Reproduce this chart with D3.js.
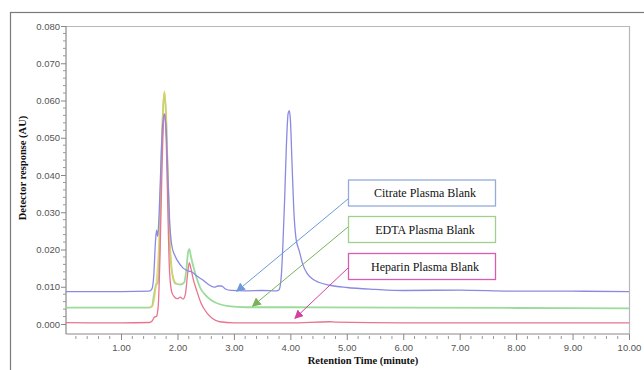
<!DOCTYPE html>
<html>
<head>
<meta charset="utf-8">
<script src="https://cdn.jsdelivr.net/npm/d3@7"></script>
<style>
  body { margin: 0; background: #fff; }
  svg { display: block; }
</style>
</head>
<body>
<script>
const svgW = 644;
const svgH = 370;

// retention time (min) / detector response (AU)
const citrateT = [0.02, 1.0, 1.50, 1.55, 1.58, 1.61, 1.63, 1.65, 1.67, 1.70, 1.73, 1.767, 1.80, 1.83, 1.86, 1.90, 1.95, 2.00, 2.10, 2.20, 2.25, 2.35, 2.45, 2.55, 2.65, 2.72, 2.78, 2.85, 2.95, 3.2, 3.5, 3.75, 3.80, 3.84, 3.87, 3.90, 3.93, 3.96, 3.98, 4.00, 4.03, 4.06, 4.10, 4.16, 4.22, 4.30, 4.40, 4.50, 4.70, 5.0, 5.5, 6.0, 7.0, 8.0, 9.0, 10.0];
const citrateV = [0.0087, 0.0087, 0.0088, 0.0095, 0.013, 0.022, 0.0252, 0.0235, 0.028, 0.040, 0.052, 0.0564, 0.052, 0.040, 0.028, 0.021, 0.0185, 0.017, 0.015, 0.0142, 0.014, 0.0128, 0.0118, 0.0106, 0.0099, 0.0102, 0.0102, 0.0094, 0.0090, 0.0089, 0.0090, 0.0089, 0.0092, 0.013, 0.022, 0.034, 0.048, 0.0565, 0.0573, 0.055, 0.043, 0.031, 0.023, 0.0195, 0.016, 0.0135, 0.012, 0.0112, 0.0104, 0.0098, 0.0093, 0.0090, 0.0091, 0.0088, 0.0088, 0.0087];

const edtaT = [0.02, 1.50, 1.55, 1.58, 1.62, 1.65, 1.68, 1.71, 1.74, 1.767, 1.80, 1.83, 1.87, 1.92, 1.97, 2.05, 2.12, 2.16, 2.19, 2.21, 2.24, 2.28, 2.33, 2.40, 2.50, 2.60, 2.75, 2.90, 3.2, 4.0, 6.0, 8.0, 10.0];
const edtaV = [0.0044, 0.0044, 0.0048, 0.0075, 0.0105, 0.011, 0.020, 0.040, 0.056, 0.0621, 0.055, 0.038, 0.020, 0.0125, 0.0108, 0.0106, 0.0112, 0.015, 0.0195, 0.0201, 0.018, 0.0155, 0.0128, 0.0098, 0.0077, 0.0064, 0.0053, 0.0048, 0.0045, 0.0045, 0.0044, 0.0043, 0.0042];

const heparinT = [0.02, 1.0, 1.50, 1.55, 1.59, 1.63, 1.66, 1.69, 1.72, 1.75, 1.775, 1.80, 1.83, 1.86, 1.90, 1.95, 2.00, 2.05, 2.10, 2.14, 2.18, 2.21, 2.24, 2.28, 2.34, 2.42, 2.52, 2.62, 2.75, 3.0, 4.0, 4.7, 4.8, 6.0, 10.0];
const heparinV = [0.00035, 0.0003, 0.0004, 0.0008, 0.0018, 0.0021, 0.005, 0.018, 0.038, 0.053, 0.0564, 0.050, 0.030, 0.014, 0.0085, 0.0072, 0.0068, 0.0072, 0.0067, 0.008, 0.0135, 0.0165, 0.0148, 0.012, 0.009, 0.0055, 0.003, 0.0015, 0.0006, 0.0003, 0.0003, 0.0006, 0.0005, 0.0003, 0.0003];

// faint extra trace visible only around the main peak
const extraT = [1.50, 1.55, 1.62, 1.68, 1.72, 1.75, 1.772, 1.80, 1.84, 1.88, 1.93, 2.0];
const extraV = [0.0045, 0.0047, 0.0105, 0.025, 0.048, 0.060, 0.0625, 0.056, 0.036, 0.018, 0.012, 0.0107];

const seriesNames = ['Citrate Plasma Blank', 'EDTA Plasma Blank', 'Heparin Plasma Blank'];
// where each label arrow points (time, response)
const arrowT = [3.05, 3.33, 4.08];
const arrowV = [0.0088, 0.0048, 0.0015];

const yTicks = [0, 0.01, 0.02, 0.03, 0.04, 0.05, 0.06, 0.07, 0.08];
const xTicks = [1, 2, 3, 4, 5, 6, 7, 8, 9, 10];

const lineColors = ['#8a8ae2', '#96d996', '#e8748e'];
const boxColors = ['#93abda', '#a3cf8e', '#d95cb0'];
const arrowColors = ['#6b9bd8', '#7bb05c', '#d63fa0'];

const plot = { left: 66, right: 629, top: 26, bottom: 334 };

const svg = d3.select('body')
              .append('svg')
              .attr('width', svgW)
              .attr('height', svgH);

// outer frame (runs off the picture on right and bottom)
svg.append('rect')
   .attr('x', 10.5).attr('y', 12.5)
   .attr('width', 700).attr('height', 400)
   .attr('fill', 'none')
   .attr('stroke', '#7a7a7a')
   .attr('stroke-width', 1.2);

const x = d3.scaleLinear().domain([0.025, 10]).range([plot.left, plot.right]);
const y = d3.scaleLinear().domain([0, 0.08]).range([324, plot.top]);
// y scale extends below 0 to the axis line
const yBottomVal = y.invert(plot.bottom);

// plot border top / right
svg.append('path')
   .attr('d', `M${plot.left},${plot.top + 0.5}H${plot.right + 0.5}V${plot.bottom}`)
   .attr('fill', 'none')
   .attr('stroke', '#b8b8b8')
   .attr('stroke-width', 1.2);

// y axis
const yMinor = d3.range(0, 0.0801, 0.002).filter(v => Math.round(v * 1000) % 10 !== 0);
const yAxisG = svg.append('g').attr('transform', `translate(${plot.left},0)`);
yAxisG.append('line')
      .attr('y1', plot.top).attr('y2', plot.bottom)
      .attr('stroke', '#8a8a8a').attr('stroke-width', 1.2);
yAxisG.selectAll('line.minor').data(yMinor).enter().append('line')
      .attr('class', 'minor')
      .attr('x1', -3).attr('x2', 0)
      .attr('y1', d => y(d)).attr('y2', d => y(d))
      .attr('stroke', '#999');
const yAxis = d3.axisLeft(y).tickValues(yTicks).tickFormat(d3.format('.3f')).tickSize(5).tickPadding(1);
const ya = yAxisG.append('g').call(yAxis);
ya.select('.domain').remove();
ya.selectAll('line').attr('stroke', '#888');
ya.selectAll('text')
  .attr('font-family', 'Liberation Sans, Arial, sans-serif')
  .attr('font-size', 9.5)
  .attr('fill', '#555');

// x axis
const xMinor = d3.range(0.2, 10.01, 0.2).filter(v => Math.abs(v - Math.round(v)) > 0.01);
const xAxisG = svg.append('g').attr('transform', `translate(0,${plot.bottom})`);
xAxisG.append('line')
      .attr('x1', plot.left).attr('x2', plot.right)
      .attr('stroke', '#8a8a8a').attr('stroke-width', 1.2);
xAxisG.selectAll('line.minor').data(xMinor).enter().append('line')
      .attr('class', 'minor')
      .attr('x1', d => x(d)).attr('x2', d => x(d))
      .attr('y1', 2).attr('y2', 5)
      .attr('stroke', '#999');
const xAxis = d3.axisBottom(x).tickValues(xTicks).tickFormat(d3.format('.2f')).tickSize(6).tickPadding(4);
const xa = xAxisG.append('g').call(xAxis);
xa.select('.domain').remove();
xa.selectAll('line').attr('stroke', '#888');
xa.selectAll('text')
  .attr('font-family', 'Liberation Sans, Arial, sans-serif')
  .attr('font-size', 9.5)
  .attr('fill', '#555');

// axis titles
svg.append('text')
   .attr('transform', 'translate(26,168) rotate(-90)')
   .attr('text-anchor', 'middle')
   .attr('font-family', 'Liberation Serif, Times New Roman, serif')
   .attr('font-weight', 'bold')
   .attr('font-size', 10.5)
   .attr('fill', '#111')
   .text('Detector response (AU)');
svg.append('text')
   .attr('x', 363).attr('y', 364)
   .attr('text-anchor', 'middle')
   .attr('font-family', 'Liberation Serif, Times New Roman, serif')
   .attr('font-weight', 'bold')
   .attr('font-size', 10.5)
   .attr('fill', '#111')
   .text('Retention Time (minute)');

// traces
const line = d3.line()
               .x(d => x(d[0]))
               .y(d => y(d[1]))
               .curve(d3.curveMonotoneX);
const zip = (a, b) => a.map((t, i) => [t, b[i]]);

const traces = [
  { data: zip(edtaT, edtaV), color: lineColors[1], w: 1.8, op: 0.95 },
  { data: zip(extraT, extraV), color: '#f2c94c', w: 1.4, op: 0.75 },
  { data: zip(heparinT, heparinV), color: lineColors[2], w: 1.3, op: 1 },
  { data: zip(citrateT, citrateV), color: lineColors[0], w: 1.3, op: 1 }
];
svg.append('g').selectAll('path')
   .data(traces)
   .enter()
   .append('path')
   .attr('d', d => line(d.data))
   .attr('fill', 'none')
   .attr('stroke', d => d.color)
   .attr('stroke-width', d => d.w)
   .attr('stroke-opacity', d => d.op)
   .attr('stroke-linejoin', 'round');

// label boxes with arrows
const boxX = 348.5, boxW = 147, boxH = 26;
const boxY = [180, 216.5, 253.5];
const arrowFrom = [[348, 199], [348, 227], [348, 268]];

const defs = svg.append('defs');
arrowColors.forEach((c, i) => {
  defs.append('marker')
      .attr('id', 'arr' + i)
      .attr('viewBox', '0 0 10 10')
      .attr('refX', 9).attr('refY', 5)
      .attr('markerWidth', 9).attr('markerHeight', 9)
      .attr('markerUnits', 'userSpaceOnUse')
      .attr('orient', 'auto')
      .append('path')
      .attr('d', 'M0,0L10,5L0,10z')
      .attr('fill', c);
});

const labels = svg.append('g').selectAll('g')
                  .data(seriesNames)
                  .enter()
                  .append('g');
labels.append('line')
      .attr('x1', (d, i) => arrowFrom[i][0])
      .attr('y1', (d, i) => arrowFrom[i][1])
      .attr('x2', (d, i) => x(arrowT[i]))
      .attr('y2', (d, i) => y(arrowV[i]))
      .attr('stroke', (d, i) => arrowColors[i])
      .attr('stroke-width', 1)
      .attr('marker-end', (d, i) => `url(#arr${i})`);
labels.append('rect')
      .attr('x', boxX)
      .attr('y', (d, i) => boxY[i])
      .attr('width', boxW)
      .attr('height', boxH)
      .attr('fill', '#fff')
      .attr('stroke', (d, i) => boxColors[i])
      .attr('stroke-width', 1.3);
labels.append('text')
      .attr('x', boxX + boxW / 2 + 3)
      .attr('y', (d, i) => boxY[i] + boxH / 2 + 4)
      .attr('text-anchor', 'middle')
      .attr('font-family', 'Liberation Serif, Times New Roman, serif')
      .attr('font-size', 12)
      .attr('fill', '#111')
      .text(d => d);
</script>
</body>
</html>
